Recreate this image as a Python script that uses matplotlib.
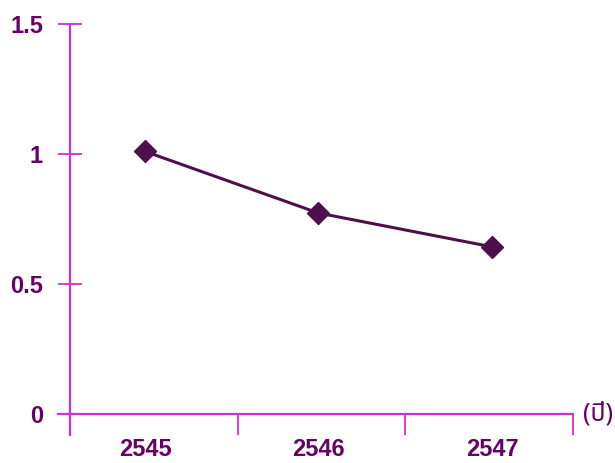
import matplotlib
matplotlib.use("Agg")
import matplotlib.pyplot as plt
from matplotlib.ticker import FixedLocator

years = ["2545", "2546", "2547"]
values = [1.01, 0.773, 0.643]
y_ticks = [0, 0.5, 1, 1.5]
y_tick_labels = ["0", "0.5", "1", "1.5"]
unit_label = "(ปี)"

axis_color = "#cc33cc"
text_color = "#660066"
line_color = "#4f0f4a"

plt.rcParams["font.family"] = ["Liberation Sans Narrow", "Liberation Sans", "DejaVu Sans"]

fig = plt.figure(figsize=(6.15, 4.63), dpi=100)
ax = fig.add_axes([0.1138, 0.1058, 0.8179, 0.8423])

x = list(range(len(years)))
ax.plot(x, values, color=line_color, lw=2.2, marker="D", ms=11,
        mfc=line_color, mec=line_color, zorder=3)

# category separators sit slightly off the half-way points
x_lo, x_hi = -0.432, 2.467
step = (x_hi - x_lo) / len(years)
ax.set_xlim(x_lo, x_hi)
ax.set_ylim(0, 1.5)

for s in ["top", "right"]:
    ax.spines[s].set_visible(False)
for s in ["left", "bottom"]:
    ax.spines[s].set_color(axis_color)
    ax.spines[s].set_linewidth(1.6)
ax.spines["left"].set_bounds(-0.08, 1.5)
ax.spines["bottom"].set_bounds(x_lo - 0.07, x_hi)

ax.set_xticks(x)
ax.set_xticklabels(years)
ax.xaxis.set_minor_locator(FixedLocator([x_lo + i * step for i in range(len(years) + 1)]))
ax.tick_params(axis="x", which="major", length=0, pad=17)
ax.tick_params(axis="x", which="minor", length=15, width=1.3, color=axis_color, direction="out")

ax.set_yticks(y_ticks)
ax.set_yticklabels(y_tick_labels)
ax.tick_params(axis="y", length=17, width=1.3, color=axis_color, direction="inout", pad=11)

for lab in ax.get_xticklabels() + ax.get_yticklabels():
    lab.set_color(text_color)
    lab.set_fontsize(17)
    lab.set_fontweight("bold")

ax.annotate(unit_label, xy=(1.0, 0.0), xycoords="axes fraction",
            xytext=(7, 0), textcoords="offset points", ha="left", va="center",
            fontsize=18, fontweight="bold", color=text_color,
            family=["Noto Sans Thai", "Loma", "Garuda", "Tlwg Typo", "DejaVu Sans"])

fig.savefig("out.png", dpi=100)
